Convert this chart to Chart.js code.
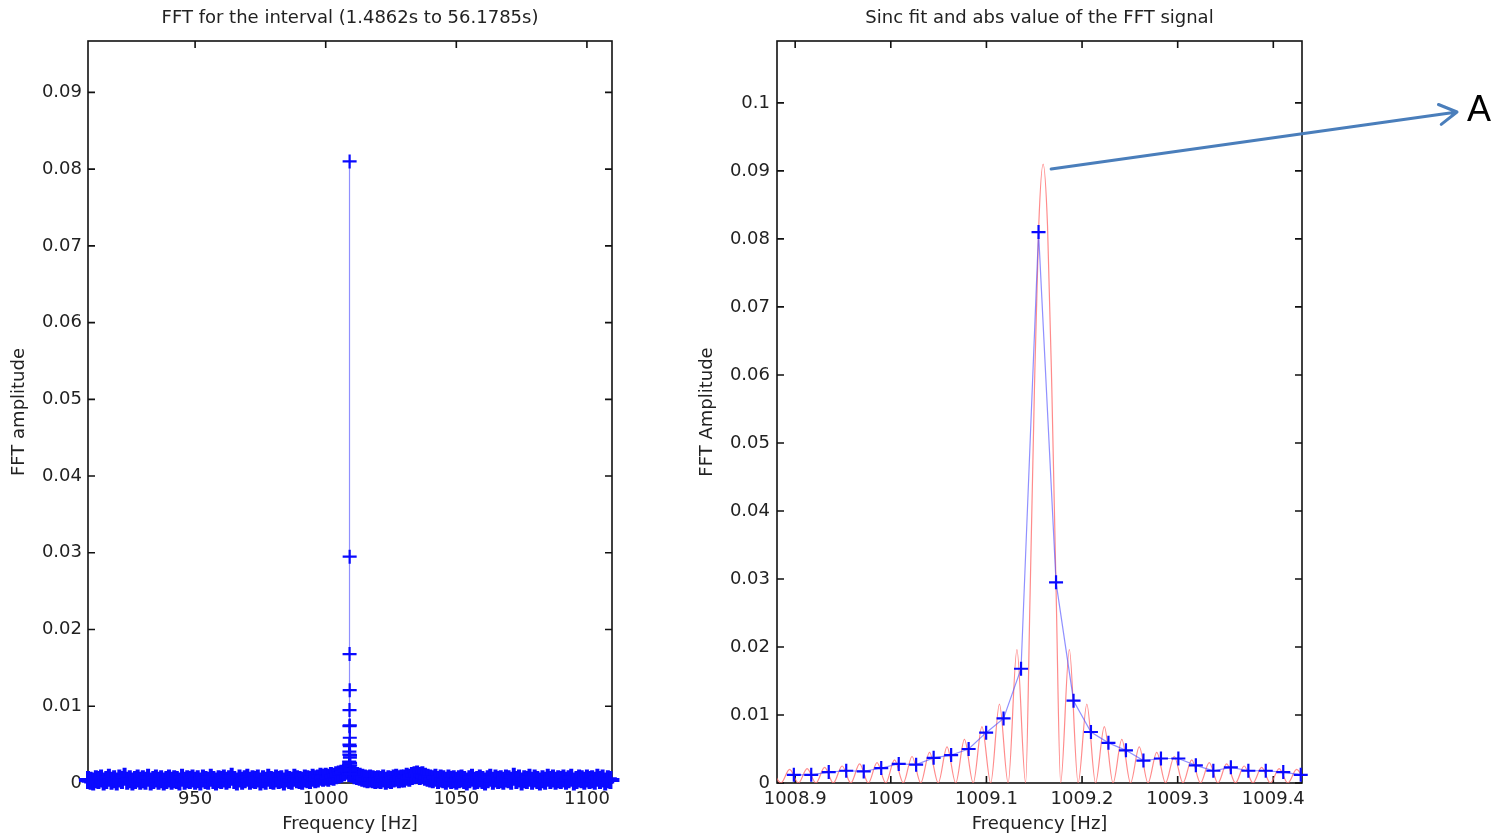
<!DOCTYPE html>
<html>
  <head>
    <meta charset="utf-8"/>
    <style>
      body { margin: 0; background: #fff; width: 1502px; height: 838px; overflow: hidden; position: relative; }
      #full-holder { position: absolute; left: 0; top: 0; }
      #zoom-holder { position: absolute; left: 690px; top: 0; }
    </style>
  </head>
  <body>
    <div id="full-holder"><canvas id="fft-full" width="690" height="838"></canvas></div>
    <div id="zoom-holder"><canvas id="fft-zoom" width="812" height="838"></canvas></div>

    <script src="https://cdn.jsdelivr.net/npm/chart.js@4.4.0/dist/chart.umd.min.js"></script>
    <script>
        // FFT bins around the line (bin spacing 1/54.69 s = 0.01828 Hz)
        var binFreq = [1008.8986, 1008.9168, 1008.9351, 1008.9534, 1008.9717, 1008.9900,
                       1009.0083, 1009.0265, 1009.0448, 1009.0631, 1009.0814, 1009.0997,
                       1009.1179, 1009.1362, 1009.1545, 1009.1728, 1009.1911, 1009.2093,
                       1009.2276, 1009.2459, 1009.2642, 1009.2825, 1009.3007, 1009.3190,
                       1009.3373, 1009.3556, 1009.3739, 1009.3921, 1009.4104, 1009.4287];
        var binAmp = [0.0012, 0.0012, 0.0016, 0.0018, 0.0017, 0.0022,
                      0.0028, 0.0027, 0.0037, 0.0041, 0.0050, 0.0074,
                      0.0095, 0.0168, 0.0810, 0.0295, 0.0121, 0.0075,
                      0.0059, 0.0048, 0.0033, 0.0036, 0.0036, 0.0026,
                      0.0018, 0.0023, 0.0018, 0.0018, 0.0016, 0.0012];

        // rest of the spectrum, one value per Hz from 909 Hz to 1109 Hz
        var noiseStartHz = 909;
        var noiseAmp = [
          0.0004,
          0.0003, 0.0002, 0.0005, 0.0004, 0.0006, 0.0002, 0.0004, 0.0007, 0.0003, 0.0005,
          0.0002, 0.0006, 0.0004, 0.0008, 0.0003, 0.0005, 0.0002, 0.0004, 0.0006, 0.0003,
          0.0005, 0.0003, 0.0007, 0.0002, 0.0004, 0.0006, 0.0003, 0.0005, 0.0002, 0.0004,
          0.0006, 0.0003, 0.0005, 0.0004, 0.0002, 0.0007, 0.0003, 0.0005, 0.0004, 0.0006,
          0.0003, 0.0005, 0.0002, 0.0006, 0.0004, 0.0003, 0.0007, 0.0004, 0.0002, 0.0005,
          0.0004, 0.0006, 0.0003, 0.0005, 0.0008, 0.0004, 0.0002, 0.0006, 0.0003, 0.0005,
          0.0007, 0.0003, 0.0005, 0.0004, 0.0006, 0.0002, 0.0005, 0.0003, 0.0007, 0.0004,
          0.0003, 0.0006, 0.0004, 0.0005, 0.0002, 0.0006, 0.0004, 0.0003, 0.0007, 0.0005,
          0.0004, 0.0003, 0.0006, 0.0005, 0.0004, 0.0007, 0.0005, 0.0006, 0.0008, 0.0007,
          0.0008, 0.0007, 0.0009, 0.0008, 0.0010, 0.0011, 0.0012, 0.0014, 0.0016, 0.0013,
          0.0012, 0.0010, 0.0009, 0.0008, 0.0007, 0.0006, 0.0005, 0.0006, 0.0005, 0.0004,
          0.0005, 0.0004, 0.0006, 0.0003, 0.0005, 0.0004, 0.0006, 0.0007, 0.0005, 0.0006,
          0.0006, 0.0008, 0.0007, 0.0009, 0.0010, 0.0011, 0.0009, 0.0010, 0.0008, 0.0007,
          0.0006, 0.0005, 0.0007, 0.0004, 0.0006, 0.0005, 0.0003, 0.0006, 0.0004, 0.0005,
          0.0003, 0.0005, 0.0006, 0.0004, 0.0002, 0.0005, 0.0007, 0.0003, 0.0004, 0.0006,
          0.0004, 0.0002, 0.0005, 0.0007, 0.0003, 0.0006, 0.0004, 0.0005, 0.0003, 0.0006,
          0.0005, 0.0003, 0.0008, 0.0004, 0.0006, 0.0002, 0.0005, 0.0004, 0.0007, 0.0003,
          0.0006, 0.0004, 0.0002, 0.0005, 0.0003, 0.0007, 0.0004, 0.0006, 0.0003, 0.0005,
          0.0004, 0.0006, 0.0003, 0.0005, 0.0007, 0.0002, 0.0004, 0.0006, 0.0005, 0.0003,
          0.0006, 0.0004, 0.0005, 0.0003, 0.0007, 0.0004, 0.0006, 0.0002, 0.0005, 0.0004
        ];

        // |sinc| fit: lobe maxima and zeros, main lobe centred at 1009.1593 Hz
        var fitFreq = [1008.8760, 1008.8851, 1008.8942, 1008.9034, 1008.9125, 1008.9217,
                       1008.9308, 1008.9399, 1008.9491, 1008.9582, 1008.9674, 1008.9765,
                       1008.9856, 1008.9948, 1009.0039, 1009.0131, 1009.0222, 1009.0313,
                       1009.0405, 1009.0496, 1009.0588, 1009.0679, 1009.0770, 1009.0862,
                       1009.0953, 1009.1045, 1009.1136, 1009.1227, 1009.1319, 1009.1410,
                       1009.1456, 1009.1502, 1009.1547, 1009.1593, 1009.1639, 1009.1684,
                       1009.1730, 1009.1776, 1009.1867, 1009.1959, 1009.2050, 1009.2141,
                       1009.2233, 1009.2324, 1009.2416, 1009.2507, 1009.2598, 1009.2690,
                       1009.2781, 1009.2873, 1009.2964, 1009.3055, 1009.3147, 1009.3238,
                       1009.3330, 1009.3421, 1009.3512, 1009.3604, 1009.3695, 1009.3787,
                       1009.3878, 1009.3969, 1009.4061, 1009.4152, 1009.4244, 1009.4335];
        var fitAmp = [0.0019, 0, 0.0020, 0, 0.0021, 0,
                      0.0023, 0, 0.0025, 0, 0.0028, 0,
                      0.0030, 0, 0.0034, 0, 0.0039, 0,
                      0.0045, 0, 0.0053, 0, 0.0064, 0,
                      0.0083, 0, 0.0116, 0, 0.0196, 0,
                      0.0273, 0.0579, 0.0819, 0.0910, 0.0819, 0.0579,
                      0.0273, 0, 0.0196, 0, 0.0116, 0,
                      0.0083, 0, 0.0064, 0, 0.0053, 0,
                      0.0045, 0, 0.0039, 0, 0.0034, 0,
                      0.0030, 0, 0.0028, 0, 0.0025, 0,
                      0.0023, 0, 0.0021, 0, 0.0020, 0];

        var fullTicksX = [950, 1000, 1050, 1100];
        var fullTicksY = [0, 0.01, 0.02, 0.03, 0.04, 0.05, 0.06, 0.07, 0.08, 0.09];
        var zoomTicksX = [1008.9, 1009, 1009.1, 1009.2, 1009.3, 1009.4];
        var zoomTicksY = [0, 0.01, 0.02, 0.03, 0.04, 0.05, 0.06, 0.07, 0.08, 0.09, 0.1];

        var FONT = 'DejaVu Sans';
        var TEXT = '#222';
        var MARK = '#0a0aff';
        var LINE = 'rgba(70,70,255,0.6)';

        var noisePoints = noiseAmp.map(function(v, k) { return {x: noiseStartHz + k, y: v}; });
        var binPoints = binFreq.map(function(f, k) { return {x: f, y: binAmp[k]}; });
        var fitPoints = fitFreq.map(function(f, k) { return {x: f, y: fitAmp[k]}; });

        // whole spectrum in frequency order, for the connecting line
        var fullPoints = noisePoints.concat(binPoints);
        fullPoints.sort(function(a, b) { return a.x - b.x; });

        // matlab style box with inward ticks on all four sides
        var boxTicks = {
            id: 'boxTicks',
            beforeDatasetsDraw: function(chart) {
                var ctx = chart.ctx, a = chart.chartArea;
                var xs = chart.scales.x, ys = chart.scales.y;
                var len = 7;
                ctx.save();
                ctx.strokeStyle = '#111';
                ctx.lineWidth = 1.6;
                ctx.strokeRect(a.left, a.top, a.right - a.left, a.bottom - a.top);
                ctx.beginPath();
                xs.ticks.forEach(function(t) {
                    var px = xs.getPixelForValue(t.value);
                    ctx.moveTo(px, a.bottom); ctx.lineTo(px, a.bottom - len);
                    ctx.moveTo(px, a.top); ctx.lineTo(px, a.top + len);
                });
                ys.ticks.forEach(function(t) {
                    var py = ys.getPixelForValue(t.value);
                    ctx.moveTo(a.left, py); ctx.lineTo(a.left + len, py);
                    ctx.moveTo(a.right, py); ctx.lineTo(a.right - len, py);
                });
                ctx.stroke();
                ctx.restore();
            }
        };

        // arrow from the top of the fit out to the "A" label
        var peakLabel = {
            id: 'peakLabel',
            afterDraw: function(chart) {
                var ctx = chart.ctx;
                var xs = chart.scales.x, ys = chart.scales.y;
                var x0 = xs.getPixelForValue(1009.1593) + 8;
                var y0 = ys.getPixelForValue(0.0910) + 5;
                var x1 = 767, y1 = 112;
                var ang = Math.atan2(y1 - y0, x1 - x0);
                var head = 20, spread = Math.PI / 6;
                ctx.save();
                ctx.strokeStyle = '#4a7ebb';
                ctx.lineWidth = 3;
                ctx.lineCap = 'round';
                ctx.lineJoin = 'round';
                ctx.beginPath();
                ctx.moveTo(x0, y0);
                ctx.lineTo(x1, y1);
                ctx.moveTo(x1 - head * Math.cos(ang - spread), y1 - head * Math.sin(ang - spread));
                ctx.lineTo(x1, y1);
                ctx.lineTo(x1 - head * Math.cos(ang + spread), y1 - head * Math.sin(ang + spread));
                ctx.stroke();
                ctx.fillStyle = '#000';
                ctx.font = '36px "Liberation Sans"';
                ctx.textBaseline = 'alphabetic';
                ctx.fillText('A', 777, 121);
                ctx.restore();
            }
        };

        var makeScales = function(cfg) {
            return {
                x: {
                    type: 'linear', min: cfg.xMin, max: cfg.xMax,
                    grid: { display: false, drawTicks: false },
                    border: { display: false },
                    afterBuildTicks: function(s) { s.ticks = cfg.xTicks.map(function(v) { return {value: v}; }); },
                    afterFit: function(s) { s.height = 55; },
                    ticks: { font: {family: FONT, size: 18}, color: TEXT, padding: 6, maxRotation: 0, autoSkip: false,
                             callback: function(v) { return String(v); } },
                    title: { display: true, text: 'Frequency [Hz]', font: {family: FONT, size: 18}, color: TEXT,
                             padding: {top: 0, bottom: 3} }
                },
                y: {
                    type: 'linear', min: 0, max: cfg.yMax,
                    grid: { display: false, drawTicks: false },
                    border: { display: false },
                    afterBuildTicks: function(s) { s.ticks = cfg.yTicks.map(function(v) { return {value: v}; }); },
                    afterFit: function(s) { s.width = cfg.yWidth; },
                    ticks: { font: {family: FONT, size: 18}, color: TEXT, padding: cfg.yPad, autoSkip: false,
                             callback: function(v) { return String(v); } },
                    title: { display: true, text: cfg.yTitle, font: {family: FONT, size: 18}, color: TEXT,
                             padding: {top: cfg.yTitlePad, bottom: 0} }
                }
            };
        };

        var makeTitle = function(text) {
            return { display: true, text: text, fullSize: false, color: TEXT,
                     font: {family: FONT, size: 18, weight: 'normal'},
                     padding: {top: 8, bottom: 11.4} };
        };

        new Chart(document.getElementById('fft-full').getContext('2d'), {
            type: 'line',
            data: {
                datasets: [{
                    // markers of the line bins
                    label: 'FFT bins',
                    data: binPoints,
                    showLine: false,
                    pointStyle: 'cross',
                    pointRadius: 7,
                    pointBorderWidth: 2.2,
                    pointBorderColor: MARK,
                    clip: false
                }, {
                    // noise floor markers, packed so tight they merge into a band
                    label: 'FFT noise',
                    data: noisePoints,
                    showLine: false,
                    pointStyle: 'cross',
                    pointRadius: 9,
                    pointBorderWidth: 4,
                    pointBorderColor: MARK,
                    clip: false
                }, {
                    label: 'FFT',
                    data: fullPoints,
                    borderColor: LINE,
                    borderWidth: 1.2,
                    pointRadius: 0,
                    tension: 0,
                    clip: false
                }]
            },
            options: {
                responsive: false,
                animation: false,
                events: [],
                layout: { padding: {left: 0, right: 78, top: 0, bottom: 0} },
                plugins: { legend: {display: false}, tooltip: {enabled: false},
                           title: makeTitle('FFT for the interval (1.4862s to 56.1785s)') },
                scales: makeScales({xMin: 909, xMax: 1109.6, xTicks: fullTicksX, yMax: 0.0967, yTicks: fullTicksY,
                                    yWidth: 88, yPad: 6, yTitle: 'FFT amplitude', yTitlePad: 9})
            },
            plugins: [boxTicks]
        });

        new Chart(document.getElementById('fft-zoom').getContext('2d'), {
            type: 'line',
            data: {
                datasets: [{
                    label: 'abs FFT',
                    data: binPoints,
                    borderColor: LINE,
                    borderWidth: 1.2,
                    pointStyle: 'cross',
                    pointRadius: 7,
                    pointBorderWidth: 2.2,
                    pointBorderColor: MARK,
                    tension: 0,
                    clip: false
                }, {
                    label: 'sinc fit',
                    data: fitPoints,
                    borderColor: 'rgba(255,110,110,0.8)',
                    borderWidth: 1.2,
                    pointRadius: 0,
                    cubicInterpolationMode: 'monotone'
                }]
            },
            options: {
                responsive: false,
                animation: false,
                events: [],
                layout: { padding: {left: 0, right: 200, top: 0, bottom: 0} },
                plugins: { legend: {display: false}, tooltip: {enabled: false},
                           title: makeTitle('Sinc fit and abs value of the FFT signal') },
                scales: makeScales({xMin: 1008.881, xMax: 1009.430, xTicks: zoomTicksX, yMax: 0.1091, yTicks: zoomTicksY,
                                    yWidth: 87, yPad: 7, yTitle: 'FFT Amplitude', yTitlePad: 7})
            },
            plugins: [boxTicks, peakLabel]
        });
    </script>
  </body>
</html>
